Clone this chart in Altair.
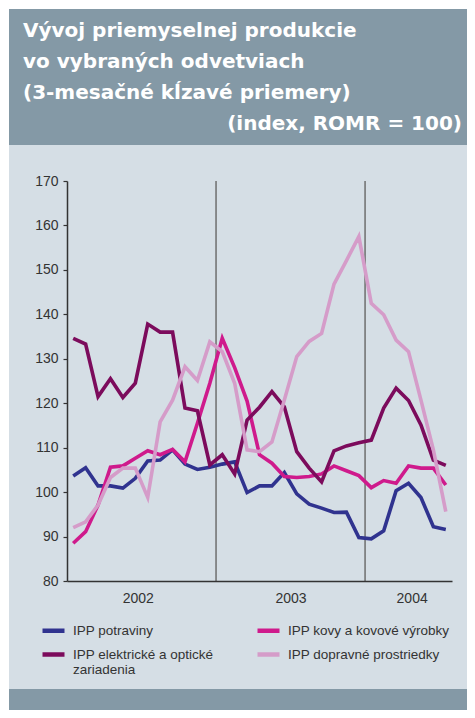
import json
import altair as alt
import pandas as pd

# ---------------- data ----------------
months = pd.date_range("2002-01", periods=31, freq="MS").strftime("%Y-%m").tolist()
series_names = [
    "IPP potraviny",
    "IPP kovy a kovové výrobky",
    "IPP elektrické a optické zariadenia",
    "IPP dopravné prostriedky",
]
potraviny = [103.6, 105.5, 101.4, 101.4, 100.9, 103.1, 107.0, 107.2, 109.5, 106.3, 105.1, 105.6,
             106.3, 106.8, 99.9, 101.4, 101.4, 104.4, 99.6, 97.3, 96.4, 95.4, 95.5, 89.8,
             89.5, 91.3, 100.3, 102.0, 98.8, 92.2, 91.6]
kovy = [88.5, 91.1, 97.1, 105.6, 105.9, 107.6, 109.3, 108.4, 109.6, 106.8, 115.5, 124.5,
        134.6, 128.0, 120.5, 108.4, 106.5, 103.5, 103.3, 103.5, 104.1, 105.9, 104.8, 103.7,
        101.0, 102.6, 102.0, 105.9, 105.4, 105.4, 101.6]
elektricke = [134.6, 133.3, 121.5, 125.5, 121.3, 124.5, 137.8, 136.0, 136.0, 118.9, 118.3, 106.1,
              108.4, 104.1, 116.2, 119.1, 122.6, 119.2, 109.1, 105.4, 102.3, 109.3, 110.4, 111.1,
              111.7, 118.9, 123.4, 120.6, 115.1, 107.2, 106.0]
dopravne = [92.0, 93.3, 97.1, 103.3, 105.4, 105.4, 98.8, 115.8, 120.7, 128.2, 125.1, 133.8,
            131.6, 124.5, 109.5, 109.1, 111.3, 120.7, 130.5, 133.9, 135.7, 146.8, 152.1, 157.5,
            142.5, 139.9, 134.2, 131.6, 120.7, 109.5, 95.6]
series_values = [potraviny, kovy, elektricke, dopravne]
colors = ["#30338f", "#cf1a8c", "#7c0b5c", "#d59cc9"]
legend_order = [series_names[0], series_names[1], series_names[2], series_names[3]]

years = ["2002", "2003", "2004"]
year_starts = [0, 12, 24]          # month index at which each year begins
y_ticks = [80, 90, 100, 110, 120, 130, 140, 150, 160, 170]
title_lines = [
    "Vývoj priemyselnej produkcie",
    "vo vybraných odvetviach",
    "(3-mesačné kĺzavé priemery)",
    "(index, ROMR = 100)",
]
legend_wrap = {"IPP elektrické a optické zariadenia": ["IPP elektrické a optické", "zariadenia"]}

# ---------------- tables ----------------
rows = []
for name, vals in zip(series_names, series_values):
    for i, (m, v) in enumerate(zip(months, vals)):
        rows.append({"series": name, "month": m, "t": i + 0.5, "value": v})
df = pd.DataFrame(rows)
n_months = len(months)
dividers = pd.DataFrame({"t": year_starts[1:]})
year_label_pos = [5.7, 18.0, 27.75]
label_expr = " : ".join(
    f"datum.value < {year_starts[k + 1]} ? '{years[k]}'" for k in range(len(years) - 1)
) + f" : '{years[-1]}'"

wrap_expr = "datum.label"
for k, v in legend_wrap.items():
    wrap_expr = f"datum.label == {json.dumps(k, ensure_ascii=False)} ? {json.dumps(v, ensure_ascii=False)} : " + wrap_expr

FONT = "Liberation Sans"
TXT = "#333333"
DARK = "#8499a6"
LIGHT = "#d5dee5"

W, H = 385, 400
one = alt.Data(values=[{}])

x_scale = alt.Scale(domain=[0, n_months], nice=False, zero=False)
y_scale = alt.Scale(domain=[80, 170], nice=False, zero=False)

title_bg = alt.Chart(one).mark_rect(color=DARK).encode(
    x=alt.value(-58), x2=alt.value(420), y=alt.value(-172), y2=alt.value(-36))
light_bg = alt.Chart(one).mark_rect(color=LIGHT).encode(
    x=alt.value(-58), x2=alt.value(420), y=alt.value(-36), y2=alt.value(508))
foot_bg = alt.Chart(one).mark_rect(color=DARK).encode(
    x=alt.value(-58), x2=alt.value(420), y=alt.value(508), y2=alt.value(540))

title_main = alt.Chart(one).mark_text(
    align="left", baseline="alphabetic", font="DejaVu Sans", fontWeight="bold",
    fontSize=20, color="white", lineHeight=31,
).encode(x=alt.value(-44), y=alt.value(-144), text=alt.value(title_lines[:3]))
title_last = alt.Chart(one).mark_text(
    align="right", baseline="alphabetic", font="DejaVu Sans", fontWeight="bold",
    fontSize=20, color="white",
).encode(x=alt.value(395), y=alt.value(-51), text=alt.value(title_lines[3]))

rules = alt.Chart(dividers).mark_rule(color="#6e6e6e", strokeWidth=1.5).encode(
    x=alt.X("t:Q", scale=x_scale), y=alt.datum(170), y2=alt.datum(80))

lines = alt.Chart(df).mark_line(strokeWidth=3.6).encode(
    x=alt.X("t:Q", scale=x_scale, title=None,
            axis=alt.Axis(values=year_label_pos, labelExpr=label_expr, ticks=False,
                          grid=False, domainColor=TXT, domainWidth=1.5, labelPadding=10,
                          labelFontSize=14, labelColor=TXT, labelFont=FONT, zindex=2)),
    y=alt.Y("value:Q", scale=y_scale, title=None,
            axis=alt.Axis(values=y_ticks, grid=False, domainColor=TXT, domainWidth=1.5,
                          tickColor=TXT, tickSize=4, tickWidth=1.2, labelPadding=5,
                          labelFontSize=14, labelColor=TXT, labelFont=FONT, zindex=2)),
    color=alt.Color("series:N", scale=alt.Scale(domain=series_names, range=colors),
                    legend=alt.Legend(
                        title=None, orient="none", legendX=-27, legendY=436,
                        columns=2, columnPadding=34, rowPadding=1,
                        values=[legend_order[0], legend_order[2], legend_order[1], legend_order[3]],
                        symbolType="stroke", symbolSize=484, symbolStrokeWidth=4.5,
                        labelOffset=6, labelFont=FONT, labelFontSize=13.5,
                        labelColor=TXT, labelLimit=300,
                        labelExpr=wrap_expr, padding=0)),
    detail="series:N",
)

chart = alt.layer(
    title_bg, light_bg, foot_bg, title_main, title_last, rules, lines
).properties(
    width=W, height=H,
    padding={"left": 59, "top": 173, "right": 15, "bottom": 129},
    autosize=alt.AutoSizeParams(type="none"),
    background="white",
).configure_view(stroke=None)

chart.save("out.html", embed_options={"renderer": "svg", "actions": False})
